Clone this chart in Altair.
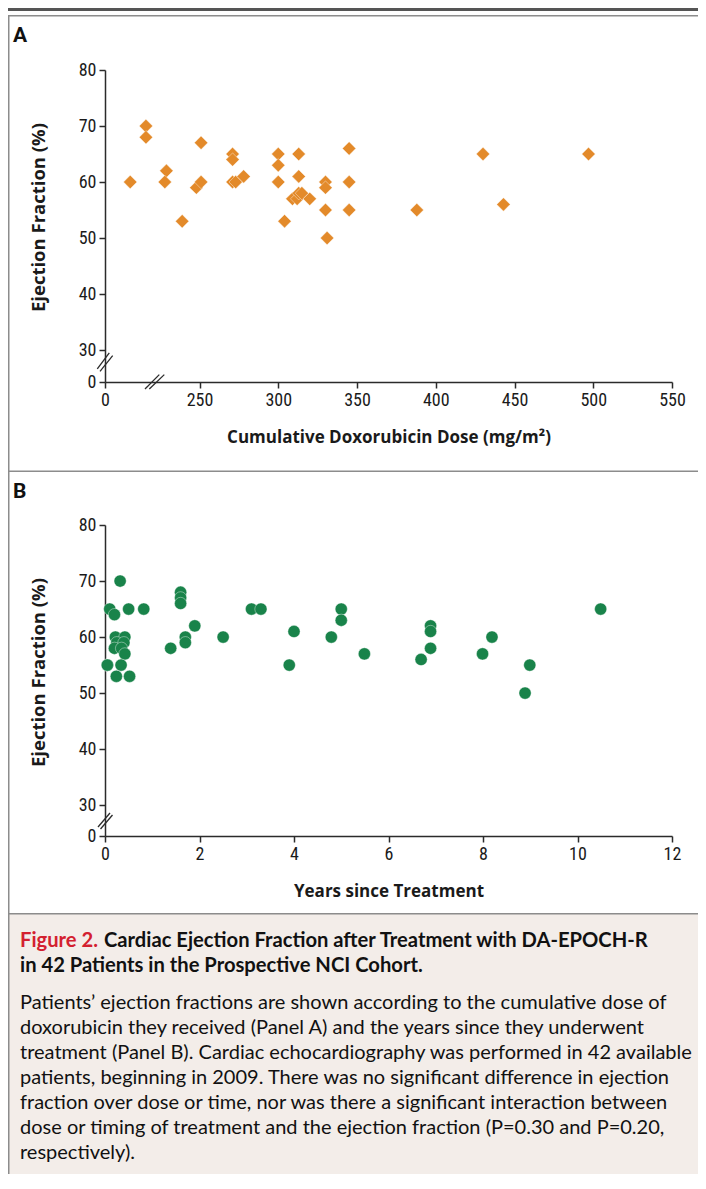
import altair as alt
import pandas as pd

# ---------------- data ----------------
dose_mg_m2 = [206, 216, 216, 229, 228, 239, 251, 248, 251, 271, 271, 271, 273, 278,
              300, 300, 300, 304, 313, 313, 309, 312, 313, 315, 320, 330, 330, 330,
              331, 345, 345, 345, 388, 430, 443, 497]
ef_dose = [60, 70, 68, 62, 60, 53, 67, 59, 60, 65, 64, 60, 60, 61,
           65, 63, 60, 53, 65, 61, 57, 57, 58, 58, 57, 60, 59, 55,
           50, 66, 60, 55, 55, 65, 56, 65]

years_since = [0.05, 0.1, 0.2, 0.32, 0.5, 0.82, 0.22, 0.42, 0.25, 0.4, 0.2, 0.35, 0.42,
               0.34, 0.24, 0.52, 1.39, 1.6, 1.6, 1.6, 1.7, 1.7, 1.9, 2.5, 3.1, 3.3,
               3.9, 4.0, 4.79, 5.0, 5.0, 5.49, 6.69, 6.89, 6.89, 6.89, 7.99, 8.19,
               8.89, 8.99, 10.49, 0.05]
ef_years = [55, 65, 64, 70, 65, 65, 60, 60, 59, 59, 58, 58, 57,
            55, 53, 53, 58, 68, 67, 66, 60, 59, 62, 60, 65, 65,
            55, 61, 60, 65, 63, 57, 56, 62, 61, 58, 57, 60,
            50, 55, 65, 55]

x_ticks_a = [190, 250, 300, 350, 400, 450, 500, 550]
x_ticks_b = [0, 2, 4, 6, 8, 10, 12]
y_ticks_a = [24.3, 30, 40, 50, 60, 70, 80]
y_ticks_b = [24.5, 30, 40, 50, 60, 70, 80]

caption_title_red = "Figure 2."
caption_title_1 = "Cardiac Ejection Fraction after Treatment with DA-EPOCH-R"
caption_title_2 = "in 42 Patients in the Prospective NCI Cohort."
caption_body = [
    "Patients\u2019 ejection fractions are shown according to the cumulative dose of",
    "doxorubicin they received (Panel A) and the years since they underwent",
    "treatment (Panel B). Cardiac echocardiography was performed in 42 available",
    "patients, beginning in 2009. There was no significant difference in ejection",
    "fraction over dose or time, nor was there a significant interaction between",
    "dose or timing of treatment and the ejection fraction (P=0.30 and P=0.20,",
    "respectively).",
]

df_a = pd.DataFrame({"dose": dose_mg_m2, "ef": ef_dose})
df_b = pd.DataFrame({"years": years_since, "ef": ef_years})

# ---------------- styling ----------------
W = 567
HA = 312
HB = 311
SPACING = 143
LABEL_FONT = "Liberation Sans Narrow, Roboto Condensed, DejaVu Sans Condensed, Roboto, sans-serif"
TITLE_FONT = "Open Sans, Lato, sans-serif"
CAP_FONT = "Lato, Open Sans, sans-serif"
AX = "#2b2b2b"
FRAME = "#8c8c8c"
ORANGE = "#E38A2A"
GREEN = "#19834A"

one = alt.Data(values=[{"k": 1}])


def axis(title, values, expr=None, tx=None, ty=None, tsize=17):
    kw = dict(
        values=values, grid=False, title=title,
        domainColor=AX, domainWidth=1.5, tickColor=AX, tickWidth=1.5, tickSize=6,
        labelFont=LABEL_FONT, labelFontSize=18, labelColor="#1a1a1a", labelPadding=3,
        labelFlush=False, labelOverlap=False,
        titleFont=TITLE_FONT, titleFontSize=tsize, titleFontWeight="bold", titleColor="#1a1a1a",
        titleBaseline="middle",
    )
    if expr is not None:
        kw["labelExpr"] = expr
    if tx is not None:
        kw["titleX"] = tx
    if ty is not None:
        kw["titleY"] = ty
    return alt.Axis(**kw)


def rect(x, x2, y, y2, color):
    return alt.Chart(one).mark_rect(color=color).encode(
        x=alt.value(x), x2=alt.value(x2), y=alt.value(y), y2=alt.value(y2))


def seg(x, y, x2, y2, color=AX, w=1.3):
    return alt.Chart(one).mark_rule(color=color, strokeWidth=w).encode(
        x=alt.value(x), y=alt.value(y), x2=alt.value(x2), y2=alt.value(y2))


def label(txt, x, y, size, color="#111", weight="normal", font=CAP_FONT):
    return alt.Chart(one).mark_text(
        align="left", baseline="middle", font=font, fontSize=size,
        fontWeight=weight, color=color, text=txt).encode(
        x=alt.value(x), y=alt.value(y))


# ---------------- panel A ----------------
xa = alt.X("dose:Q", scale=alt.Scale(domain=[190, 550], nice=False, zero=False),
           axis=axis("Cumulative Doxorubicin Dose (mg/m\u00b2)", x_ticks_a,
                     "datum.value < 200 ? '0' : datum.label", ty=55))
ya = alt.Y("ef:Q", scale=alt.Scale(domain=[24.3, 80], nice=False, zero=False),
           axis=axis("Ejection Fraction (%)", y_ticks_a,
                     "datum.value < 25 ? '0' : datum.label", tx=-67, ty=147, tsize=18.5))

points_a = alt.Chart(df_a).mark_point(
    shape="diamond", filled=True, size=180, color=ORANGE, opacity=1,
    stroke="white", strokeWidth=0.4).encode(x=xa, y=ya)

panel_a = alt.layer(
    rect(-97, 593, -62, -59, "#555555"),
    rect(-97, 593, -55, -53.5, FRAME),
    rect(-97, -95.5, -55, 402, FRAME),
    rect(-97, 593, 400.5, 402, FRAME),
    label("A", -92, -34, 21, weight="bold", font="Roboto, Lato, sans-serif"),
    points_a,
    seg(-7.7, 298.9, 4.3, 282.9),
    seg(-5, 301.3, 7.7, 285.6),
    seg(40, 319, 54.3, 304.6),
    seg(44.3, 319, 59.3, 304.6),
).properties(width=W, height=HA)

# ---------------- panel B ----------------
xb = alt.X("years:Q", scale=alt.Scale(domain=[0, 12], nice=False, zero=False),
           axis=axis("Years since Treatment", x_ticks_b, ty=55))
yb = alt.Y("ef:Q", scale=alt.Scale(domain=[24.5, 80], nice=False, zero=False),
           axis=axis("Ejection Fraction (%)", y_ticks_b,
                     "datum.value < 25 ? '0' : datum.label", tx=-67, ty=147, tsize=18.5))

points_b = alt.Chart(df_b).mark_point(
    shape="circle", filled=True, size=150, color=GREEN, opacity=1,
    stroke="white", strokeWidth=0.4).encode(x=xb, y=yb)

cap_layers = [
    rect(-97, 593, 389, 649, "#F3EDE9"),
    rect(-97, 593, 388, 389.5, FRAME),
    rect(-97, -95.5, -54, 649, FRAME),
    label(caption_title_red, -85, 416, 20.2, color="#D3202F", weight="bold"),
    label(caption_title_1, -1, 416, 20.2, weight="bold"),
    label(caption_title_2, -85, 441, 20.2, weight="bold"),
]
for i, line in enumerate(caption_body):
    cap_layers.append(label(line, -85, 478 + 25 * i, 20.0))

panel_b = alt.layer(
    *cap_layers,
    label("B", -92, -33, 21, weight="bold", font="Roboto, Lato, sans-serif"),
    points_b,
    seg(-7, 302, 5, 288),
    seg(-4.5, 304, 7.5, 290),
).properties(width=W, height=HB)

chart = alt.vconcat(panel_a, panel_b, spacing=SPACING, bounds="flush").properties(
    padding=0, background="white"
).configure_view(stroke=None)

chart.save("out.html", embed_options={"renderer": "svg", "actions": False})
